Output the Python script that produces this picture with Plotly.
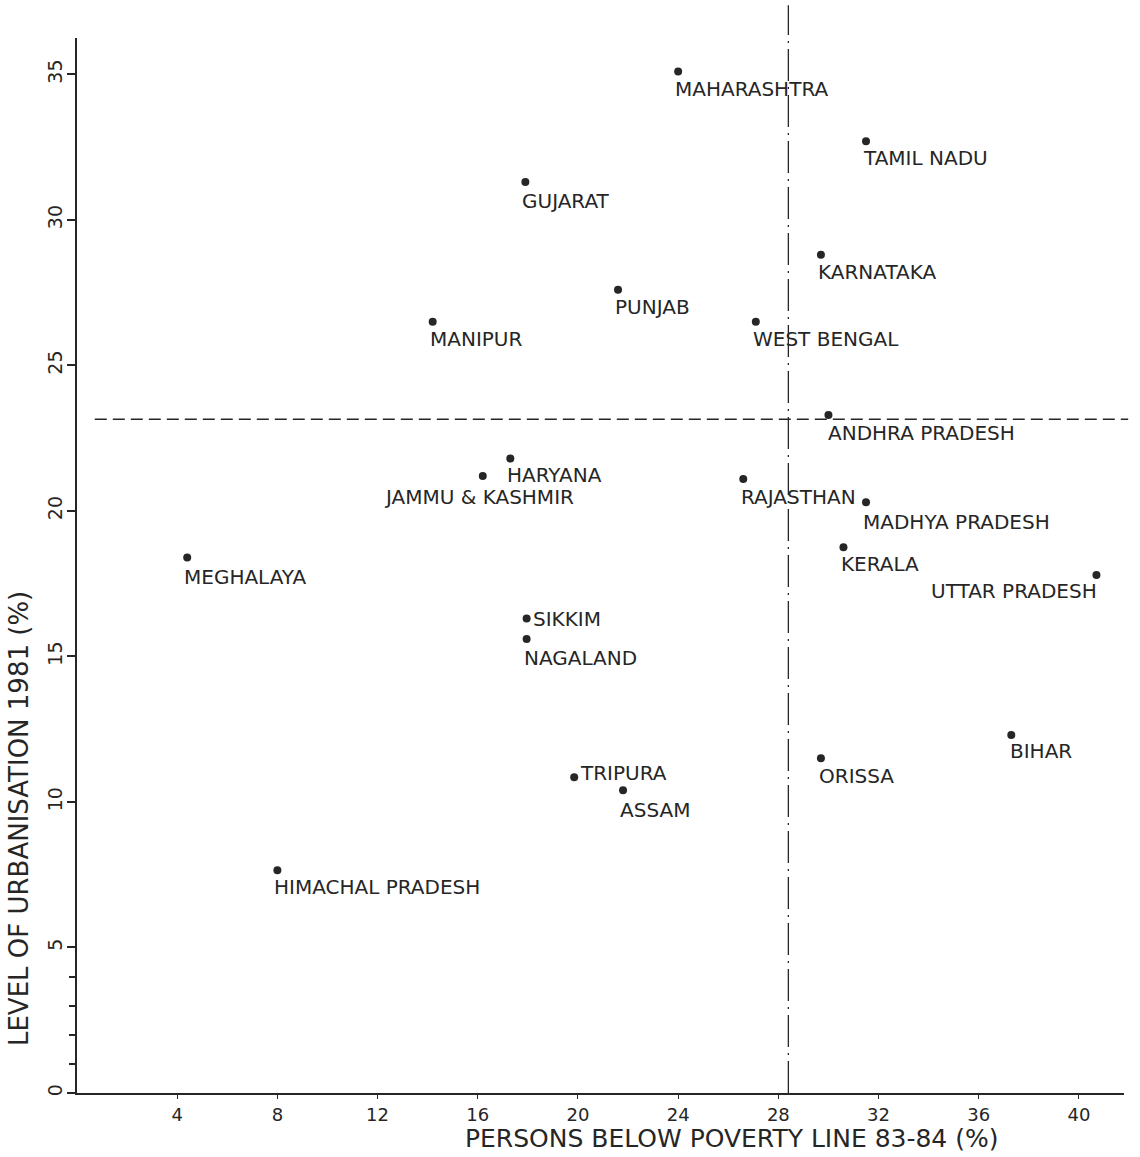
import plotly.graph_objects as go

# States of India: poverty (1983-84) against urbanisation (1981)
states = [
    "MAHARASHTRA", "TAMIL NADU", "GUJARAT", "KARNATAKA", "PUNJAB", "MANIPUR",
    "WEST BENGAL", "ANDHRA PRADESH", "HARYANA", "JAMMU & KASHMIR", "RAJASTHAN",
    "MADHYA PRADESH", "KERALA", "UTTAR PRADESH", "MEGHALAYA", "SIKKIM",
    "NAGALAND", "BIHAR", "ORISSA", "TRIPURA", "ASSAM", "HIMACHAL PRADESH",
]
poverty_pct = [
    24.0, 31.5, 17.9, 29.7, 21.6, 14.2,
    27.1, 30.0, 17.3, 16.2, 26.6,
    31.5, 30.6, 40.7, 4.4, 17.95,
    17.95, 37.3, 29.7, 19.85, 21.8, 8.0,
]
urban_pct = [
    35.1, 32.7, 31.3, 28.8, 27.6, 26.5,
    26.5, 23.3, 21.8, 21.2, 21.1,
    20.3, 18.75, 17.8, 18.4, 16.3,
    15.6, 12.3, 11.5, 10.85, 10.4, 7.65,
]

# all-state averages used as dividing lines
mean_poverty = 28.4
mean_urban = 23.15

x_ticks = [4, 8, 12, 16, 20, 24, 28, 32, 36, 40]
y_ticks = [0, 5, 10, 15, 20, 25, 30, 35]
y_minor_ticks = [1, 2, 3, 4]

# label placement relative to each dot: (xanchor, xshift px, yshift px)
label_place = {
    "MAHARASHTRA": ("left", -5, -18),
    "TAMIL NADU": ("left", -5, -17),
    "GUJARAT": ("left", -5, -19),
    "KARNATAKA": ("left", -5, -17),
    "PUNJAB": ("left", -5, -17),
    "MANIPUR": ("left", -5, -17),
    "WEST BENGAL": ("left", -5, -17),
    "ANDHRA PRADESH": ("left", -2, -18),
    "HARYANA": ("left", -5, -16),
    "JAMMU & KASHMIR": ("center", -4, -21),
    "RAJASTHAN": ("left", -4, -18),
    "MADHYA PRADESH": ("left", -5, -20),
    "KERALA": ("left", -4, -17),
    "UTTAR PRADESH": ("right", 3, -16),
    "MEGHALAYA": ("left", -5, -19),
    "SIKKIM": ("left", 4, 0),
    "NAGALAND": ("left", -5, -19),
    "BIHAR": ("left", -3, -16),
    "ORISSA": ("left", -4, -18),
    "TRIPURA": ("left", 4, 4),
    "ASSAM": ("left", -5, -20),
    "HIMACHAL PRADESH": ("left", -5, -17),
}

FONT = "DejaVu Sans"
INK = "#262626"

fig = go.Figure()
fig.add_trace(go.Scatter(
    x=poverty_pct, y=urban_pct, mode="markers",
    marker=dict(size=8, color=INK),
    hovertext=states, hoverinfo="text", showlegend=False,
))

for name, px_, uy in zip(states, poverty_pct, urban_pct):
    anchor, dx, dy = label_place[name]
    fig.add_annotation(
        x=px_, y=uy, text=name, showarrow=False,
        xanchor=anchor, yanchor="middle", xshift=dx, yshift=dy,
        font=dict(family=FONT, size=20, color=INK),
    )

# dividing lines at the averages
fig.add_shape(type="line", xref="x", yref="paper",
              x0=mean_poverty, x1=mean_poverty, y0=0, y1=1.031,
              line=dict(color=INK, width=1.3, dash="32px,6px,2px,6px"))
fig.add_shape(type="line", xref="paper", yref="y",
              x0=0.017, x1=1.004, y0=mean_urban, y1=mean_urban,
              line=dict(color=INK, width=1.5, dash="12px,6px"))

# axis titles
fig.add_annotation(
    xref="paper", yref="paper", x=0.625, y=-0.0435,
    text="PERSONS BELOW POVERTY LINE 83-84 (%)", showarrow=False,
    xanchor="center", yanchor="middle", borderpad=0,
    font=dict(family=FONT, size=25, color=INK),
)
fig.add_annotation(
    xref="paper", yref="paper", x=-0.056, y=0.26,
    text="LEVEL OF URBANISATION 1981 (%)", showarrow=False, textangle=-90,
    xanchor="center", yanchor="middle",
    font=dict(family=FONT, size=26, color=INK),
)

fig.update_xaxes(
    range=[0, 41.8], showgrid=False, zeroline=False,
    showline=True, linecolor=INK, linewidth=1.8,
    tickmode="array", tickvals=x_ticks, ticktext=[str(v) for v in x_ticks],
    ticks="outside", ticklen=4, tickwidth=1.3, tickcolor=INK,
    ticklabelstandoff=0,
    tickfont=dict(family=FONT, size=18, color=INK),
)
fig.update_yaxes(
    range=[0, 36.25], showgrid=False, zeroline=False,
    showline=True, linecolor=INK, linewidth=1.6,
    tickmode="array", tickvals=y_ticks, ticktext=[str(v) for v in y_ticks],
    ticks="outside", ticklen=8, tickwidth=1.5, tickcolor=INK,
    tickangle=-90, ticklabelstandoff=-2,
    tickfont=dict(family=FONT, size=19, color=INK),
    minor=dict(tickmode="array", tickvals=y_minor_ticks, ticks="outside",
               ticklen=6, tickwidth=1.5, tickcolor=INK, showgrid=False),
)

fig.update_layout(
    width=1140, height=1157,
    margin=dict(l=77, r=16, t=38, b=64),
    paper_bgcolor="white", plot_bgcolor="white",
    font=dict(family=FONT, color=INK),
)

fig.write_html("out.html")
